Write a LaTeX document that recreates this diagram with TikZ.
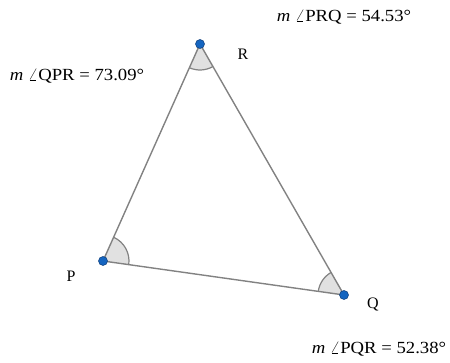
\documentclass[tikz,border=0pt]{standalone}
\usepackage{fontspec}
\setmainfont{Liberation Serif}
\usetikzlibrary{angles}
\definecolor{seg}{RGB}{130,130,130}
\definecolor{ptblue}{RGB}{21,101,192}
\definecolor{ptedge}{RGB}{13,60,120}
\definecolor{angfill}{RGB}{225,225,225}
\newcommand{\measure}[1]{\scalebox{1.1}[1]{\textit{m} $\angle$#1}}
\begin{document}
\begin{tikzpicture}[x=1pt,y=1pt,
  side/.style={draw=seg,line width=1.4pt},
  vertex/.style={circle,fill=ptblue,draw=ptedge,line width=0.5pt,inner sep=0pt,minimum size=9pt},
  angmark/.style={draw=seg,fill=angfill,line width=1.2pt,angle radius=26pt},
  lbl/.style={font=\fontsize{16}{19}\selectfont},
  meas/.style={font=\fontsize{17}{20}\selectfont}]
\useasboundingbox (0,0) rectangle (450,363);
\coordinate (P) at (103,102);
\coordinate (Q) at (344,68);
\coordinate (R) at (200,319);
\pic[angmark] {angle=Q--P--R};
\pic[angmark] {angle=R--Q--P};
\pic[angmark] {angle=P--R--Q};
\draw[side] (P) -- (Q) -- (R) -- cycle;
\node[vertex] (p) at (P) {};
\node[vertex] (q) at (Q) {};
\node[vertex] (r) at (R) {};
\node[lbl] (lr) at (243,309) {R};
\node[lbl] (lp) at (71,87) {P};
\node[lbl] (lq) at (373,58) {Q};
\node[meas] (mp) at (77,287) {\measure{QPR = 73.09°}};
\node[meas] (mr) at (344,346) {\measure{PRQ = 54.53°}};
\node[meas] (mq) at (379,14) {\measure{PQR = 52.38°}};
\end{tikzpicture}
\end{document}
